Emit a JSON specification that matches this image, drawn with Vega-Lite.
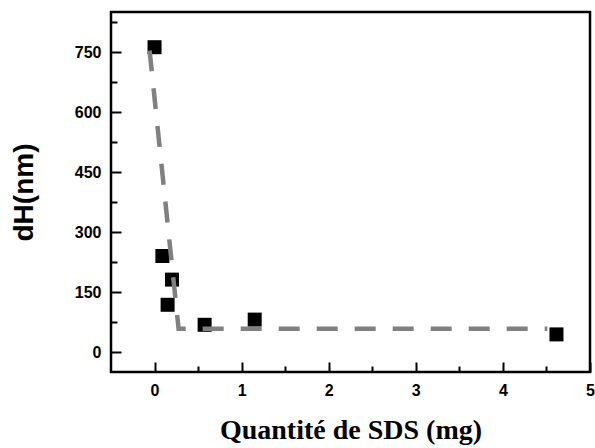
{
  "$schema": "https://vega.github.io/schema/vega-lite/v6.json",
  "width": 479,
  "height": 360,
  "autosize": "none",
  "padding": {"left": 111, "top": 12, "right": 5, "bottom": 76},
  "background": "white",
  "config": {"view": {"stroke": "black", "strokeWidth": 2.5}},
  "datasets": {
    "points": [
      {"sds": 0.0, "dh": 762},
      {"sds": 0.09, "dh": 240},
      {"sds": 0.2, "dh": 181},
      {"sds": 0.15, "dh": 118},
      {"sds": 0.575, "dh": 68},
      {"sds": 1.15, "dh": 81},
      {"sds": 4.615, "dh": 44}
    ],
    "fit": [
      {"sds": -0.057, "dh": 754},
      {"sds": 0.276, "dh": 58},
      {"sds": 4.51, "dh": 58}
    ]
  },
  "resolve": {"axis": {"x": "independent", "y": "independent"}},
  "layer": [
    {
      "data": {"name": "points"},
      "mark": {"type": "square", "size": 196, "color": "black", "opacity": 1, "filled": true},
      "encoding": {
        "x": {
          "field": "sds", "type": "quantitative",
          "scale": {"domain": [-0.5, 5], "nice": false, "zero": false},
          "axis": {
            "orient": "bottom",
            "title": "Quantité de SDS (mg)",
            "values": [0, 1, 2, 3, 4, 5],
            "format": "d",
            "grid": false, "domain": false,
            "tickColor": "black", "tickWidth": 2, "tickSize": -10,
            "labelFont": "Liberation Sans", "labelFontWeight": "bold", "labelFontSize": 16, "labelColor": "black",
            "labelPadding": 20, "labelFlush": false, "labelOverlap": false,
            "titleFont": "Liberation Serif", "titleFontWeight": "bold", "titleFontSize": 28, "titleColor": "black",
            "titlePadding": 18
          }
        },
        "y": {
          "field": "dh", "type": "quantitative",
          "scale": {"domain": [-50, 850], "nice": false, "zero": false},
          "axis": {
            "orient": "left",
            "title": "dH(nm)",
            "values": [0, 150, 300, 450, 600, 750],
            "format": "d",
            "grid": false, "domain": false,
            "tickColor": "black", "tickWidth": 2, "tickSize": -10,
            "labelFont": "Liberation Sans", "labelFontWeight": "bold", "labelFontSize": 16, "labelColor": "black",
            "labelPadding": 20, "labelFlush": false, "labelOverlap": false,
            "titleFont": "Liberation Sans", "titleFontWeight": "bold", "titleFontSize": 28, "titleColor": "black",
            "titlePadding": 36
          }
        }
      }
    },
    {
      "data": {"name": "fit"},
      "mark": {"type": "line", "color": "#808080", "strokeWidth": 4.5, "strokeDash": [21, 17]},
      "encoding": {
        "x": {
          "field": "sds", "type": "quantitative",
          "axis": {
            "orient": "bottom", "title": null, "labels": false, "grid": false, "domain": false,
            "values": [0.5, 1.5, 2.5, 3.5, 4.5],
            "tickColor": "black", "tickWidth": 2, "tickSize": -6
          }
        },
        "y": {
          "field": "dh", "type": "quantitative",
          "axis": {
            "orient": "left", "title": null, "labels": false, "grid": false, "domain": false,
            "values": [75, 225, 375, 525, 675, 825],
            "tickColor": "black", "tickWidth": 2, "tickSize": -6
          }
        }
      }
    }
  ]
}
